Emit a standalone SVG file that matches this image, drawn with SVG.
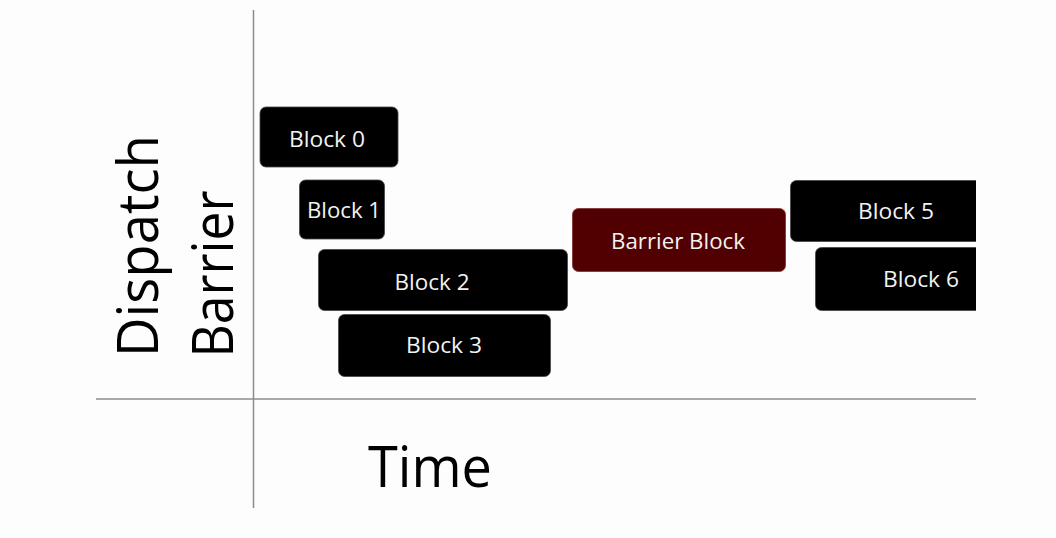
<svg xmlns="http://www.w3.org/2000/svg" width="1056" height="538" viewBox="0 0 1056 538">
<style>
.blk{fill:#000;stroke:#444;stroke-width:0.8}
.bar{fill:#500000;stroke:#8a4040;stroke-width:1}
.lbl{font-family:"Open Sans","Liberation Sans",sans-serif;font-size:22px;fill:#f2f2f2;text-anchor:middle}
.axis{stroke:#8c8c8c;stroke-width:1.5;fill:none}
.big{font-family:"Open Sans","Liberation Sans",sans-serif;font-size:56px;fill:#000;text-anchor:middle}
</style>
<defs>
<clipPath id="cut"><rect x="0" y="0" width="976" height="538"/></clipPath>
</defs>
<rect width="1056" height="538" fill="#fdfdfd"/>
<g id="connectors">
<line class="axis" x1="253.5" y1="10" x2="253.5" y2="508"/>
<line class="axis" x1="96" y1="399" x2="976" y2="399"/>
</g>
<g id="axis-label-y">
<text class="big" transform="translate(158,246) rotate(-90)" textLength="222" lengthAdjust="spacingAndGlyphs">Dispatch</text>
<text class="big" transform="translate(233,274) rotate(-90)" textLength="167" lengthAdjust="spacingAndGlyphs">Barrier</text>
</g>
<g id="axis-label-x">
<text class="big" x="430" y="487" textLength="124" lengthAdjust="spacingAndGlyphs">Time</text>
</g>
<g id="block0">
<rect class="blk" x="260" y="107" width="138" height="60" rx="6"/>
<text class="lbl" x="327" y="147" textLength="76" lengthAdjust="spacingAndGlyphs">Block 0</text>
</g>
<g id="block1">
<rect class="blk" x="299.5" y="180" width="85" height="59" rx="6"/>
<text class="lbl" x="344" y="218" textLength="74" lengthAdjust="spacingAndGlyphs">Block 1</text>
</g>
<g id="block2">
<rect class="blk" x="318.5" y="249.5" width="249" height="61" rx="6"/>
<text class="lbl" x="432" y="290" textLength="75" lengthAdjust="spacingAndGlyphs">Block 2</text>
</g>
<g id="block3">
<rect class="blk" x="338.5" y="314.5" width="212" height="62" rx="6"/>
<text class="lbl" x="444" y="353" textLength="76" lengthAdjust="spacingAndGlyphs">Block 3</text>
</g>
<g id="barrier">
<rect class="bar" x="572.5" y="208.5" width="213" height="63" rx="6"/>
<text class="lbl" x="678" y="249" textLength="134" lengthAdjust="spacingAndGlyphs">Barrier Block</text>
</g>
<g id="block5" clip-path="url(#cut)">
<rect class="blk" x="790.5" y="180.5" width="200" height="61" rx="6"/>
<text class="lbl" x="896" y="219" textLength="76" lengthAdjust="spacingAndGlyphs">Block 5</text>
</g>
<g id="block6" clip-path="url(#cut)">
<rect class="blk" x="815.5" y="247.5" width="200" height="63" rx="6"/>
<text class="lbl" x="921" y="287" textLength="76" lengthAdjust="spacingAndGlyphs">Block 6</text>
</g>
</svg>
